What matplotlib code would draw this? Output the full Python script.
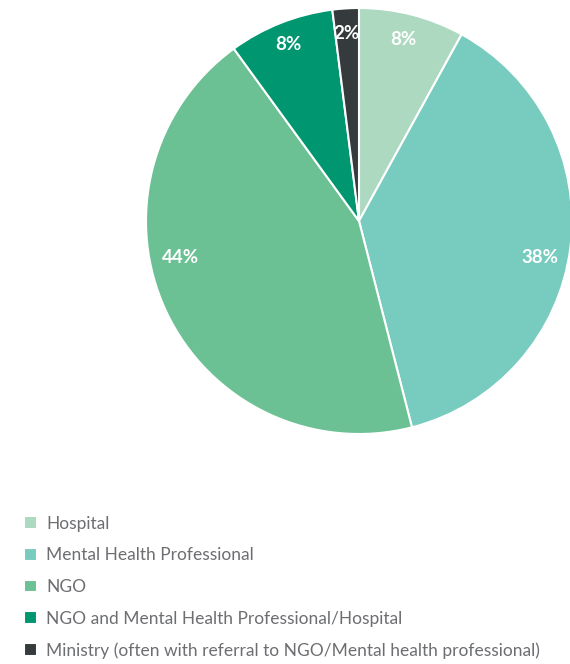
import matplotlib.pyplot as plt

categories = [
    "Hospital",
    "Mental Health Professional",
    "NGO",
    "NGO and Mental Health Professional/Hospital",
    "Ministry (often with referral to NGO/Mental health professional)",
]
shares = [8, 38, 44, 8, 2]
colors = ["#acd9c0", "#78cbbf", "#6cc194", "#009670", "#353b3c"]

# where the reference puts each percent label (in pie-radius units)
label_pos = [(0.21, 0.85), (0.85, -0.17), (-0.84, -0.17), (-0.33, 0.83), (-0.06, 0.88)]

plt.rcParams['font.family'] = ['Lato', 'DejaVu Sans']

W, H = 570, 664
fig = plt.figure(figsize=(W / 100, H / 100), dpi=100)

# pie centre (359, 221) px from top-left, radius 213 px
cx, cy, r = 359, 221, 213
ax = fig.add_axes([(cx - r) / W, (H - cy - r) / H, 2 * r / W, 2 * r / H])

wedges, texts, autotexts = ax.pie(
    shares,
    colors=colors,
    startangle=90,
    counterclock=False,
    autopct='%d%%',
    wedgeprops=dict(edgecolor='white', linewidth=1.5),
    textprops=dict(color='white', fontsize=13.5, fontweight='bold'),
)
for t, pos in zip(autotexts, label_pos):
    t.set_position(pos)

ax.set_xlim(-1, 1)
ax.set_ylim(-1, 1)
ax.set_aspect('equal')
ax.axis('off')

fig.legend(
    wedges,
    categories,
    loc='upper left',
    bbox_to_anchor=(15 / W, 1 - 507 / H),
    frameon=False,
    fontsize=12.5,
    labelcolor='#6d6e71',
    handlelength=0.75,
    handleheight=0.75,
    handletextpad=0.55,
    labelspacing=0.9,
    borderpad=0,
)

plt.savefig('out.png', dpi=100)
